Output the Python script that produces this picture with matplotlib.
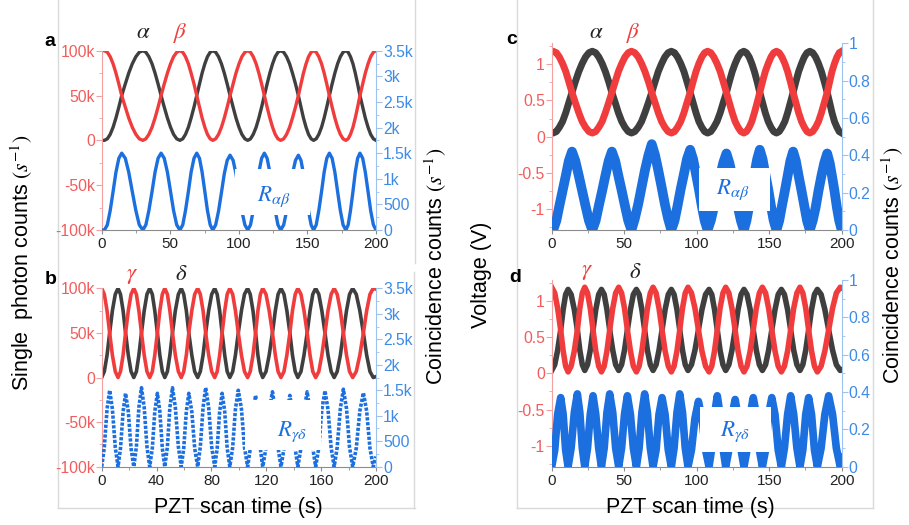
import matplotlib
matplotlib.use("Agg")
import matplotlib.pyplot as plt
from matplotlib.patches import Rectangle
from matplotlib.lines import Line2D
from matplotlib.ticker import MultipleLocator

plt.rcParams['font.family'] = ['Liberation Sans', 'DejaVu Sans']
plt.rcParams['mathtext.fontset'] = 'stix'

W, H = 909, 525
RED = '#f03c3c'
DARK = '#3f3f3f'
BLUE = '#1c6fde'
RED_TXT = '#f25c5c'
RED_AX = '#f5a0a0'
BLUE_TXT = '#3d8be6'
BLUE_AX = '#9cc2f2'
FRAME = '#d9d9d9'

# ---------------- panel a : single photon counts (k/s) and coincidences (k/s)
t_a = [0, 2, 4.1, 6.2, 8.3, 10.4, 12.5, 14.6, 17.2, 19.7, 22.3, 24.9, 27.4, 30,
       32.2, 34.4, 36.7, 38.9, 41.1, 43.3, 45.6, 47.9, 50.2, 52.4, 54.7, 57,
       59.1, 61.1, 63.2, 65.2, 67.3, 69.3, 71.3, 73.2, 75.2, 77.1, 79.1, 81,
       83.1, 85.2, 87.3, 89.4, 91.5, 93.6, 95.8, 97.9, 100.1, 102.2, 104.4, 106.5,
       108.5, 110.5, 112.6, 114.6, 116.6, 118.6, 120.6, 122.6, 124.6, 126.5, 128.5, 130.5,
       132.7, 134.8, 137.0, 139.1, 141.3, 143.4, 145.3, 147.1, 149.0, 150.8, 152.7, 154.5,
       156.4, 158.3, 160.3, 162.2, 164.1, 166, 168, 170, 172, 174, 176, 178,
       179.7, 181.4, 183.2, 184.9, 186.6, 188.3, 190.3, 192.2, 194.2, 196.1, 198.1, 200]
alpha_a = [0, 0, 1.7, 6.7, 14.6, 25, 37.1, 50, 62.9, 75, 85.4, 93.3, 98.3, 100,
           98.3, 93.3, 85.4, 75, 62.9, 50, 37.1, 25, 14.6, 6.7, 1.7, 0,
           1.7, 6.7, 14.6, 25, 37.1, 50, 62.9, 75, 85.4, 93.3, 98.3, 100,
           98.3, 93.3, 85.4, 75, 62.9, 50, 37.1, 25, 14.6, 6.7, 1.7, 0,
           1.7, 6.7, 14.6, 25, 37.1, 50, 62.9, 75, 85.4, 93.3, 98.3, 100,
           98.3, 93.3, 85.4, 75, 62.9, 50, 37.1, 25, 14.6, 6.7, 1.7, 0,
           1.7, 6.7, 14.6, 25, 37.1, 50, 62.9, 75, 85.4, 93.3, 98.3, 100,
           98.3, 93.3, 85.4, 75, 62.9, 50, 37.1, 25, 14.6, 6.7, 1.7, 0]
beta_a = [100, 100, 98.3, 93.3, 85.4, 75, 62.9, 50, 37.1, 25, 14.6, 6.7, 1.7, 0,
          1.7, 6.7, 14.6, 25, 37.1, 50, 62.9, 75, 85.4, 93.3, 98.3, 100,
          98.3, 93.3, 85.4, 75, 62.9, 50, 37.1, 25, 14.6, 6.7, 1.7, 0,
          1.7, 6.7, 14.6, 25, 37.1, 50, 62.9, 75, 85.4, 93.3, 98.3, 100,
          98.3, 93.3, 85.4, 75, 62.9, 50, 37.1, 25, 14.6, 6.7, 1.7, 0,
          1.7, 6.7, 14.6, 25, 37.1, 50, 62.9, 75, 85.4, 93.3, 98.3, 100,
          98.3, 93.3, 85.4, 75, 62.9, 50, 37.1, 25, 14.6, 6.7, 1.7, 0,
          1.7, 6.7, 14.6, 25, 37.1, 50, 62.9, 75, 85.4, 93.3, 98.3, 100]
coinc_a = [0, 0, .1, .38, .75, 1.13, 1.4, 1.5, 1.4, 1.13, .75, .38, .1, 0,
           .1, .38, .75, 1.13, 1.4, 1.5, 1.4, 1.13, .75, .38, .1, 0,
           .1, .38, .75, 1.13, 1.4, 1.5, 1.4, 1.13, .75, .38, .1, 0,
           .1, .37, .73, 1.1, 1.36, 1.46, 1.36, 1.1, .73, .37, .1, 0,
           .1, .38, .75, 1.13, 1.4, 1.5, 1.4, 1.13, .75, .38, .1, 0,
           .1, .37, .73, 1.1, 1.36, 1.46, 1.36, 1.1, .73, .37, .1, 0,
           .1, .38, .75, 1.13, 1.4, 1.5, 1.4, 1.13, .75, .38, .1, 0,
           .1, .38, .75, 1.13, 1.4, 1.5, 1.4, 1.13, .75, .38, .1, 0]

# ---------------- panel b
t_b = [0, 1.9, 3.9, 5.8, 7.8, 9.9, 11.9, 13.7, 15.6, 17.4, 19.4, 21.4, 23.4,
       25.3, 27.1, 29, 31, 33, 35, 36.9, 38.7, 40.6, 42.4, 44.2, 46,
       47.9, 49.7, 51.6, 53.7, 55.9, 58, 59.8, 61.7, 63.5, 65.7, 67.8, 70,
       71.9, 73.9, 75.8, 78, 80.2, 82.4, 84.2, 86, 87.8, 89.7, 91.5, 93.4,
       95.5, 97.5, 99.6, 101.9, 104.1, 106.4, 108.3, 110.3, 112.2, 113.9, 115.7, 117.4,
       119.8, 122.1, 124.5, 126.6, 128.6, 130.7, 132.9, 135, 137.2, 139.1, 141.1, 143,
       145.3, 147.5, 149.8, 151.9, 153.9, 156, 158.3, 160.5, 162.8, 165, 167.3, 169.5,
       171.7, 174, 176.2, 178.5, 180.7, 183, 185.6, 188.2, 190.8, 193.2, 195.6, 198, 200]
gamma_b = [100,
           93.3, 75, 50, 25, 6.7, 0, 6.7, 25, 50, 75, 93.3, 100,
           93.3, 75, 50, 25, 6.7, 0, 6.7, 25, 50, 75, 93.3, 100,
           93.3, 75, 50, 25, 6.7, 0, 6.7, 25, 50, 75, 93.3, 100,
           93.3, 75, 50, 25, 6.7, 0, 6.7, 25, 50, 75, 93.3, 100,
           93.3, 75, 50, 25, 6.7, 0, 6.7, 25, 50, 75, 93.3, 100,
           93.3, 75, 50, 25, 6.7, 0, 6.7, 25, 50, 75, 93.3, 100,
           93.3, 75, 50, 25, 6.7, 0, 6.7, 25, 50, 75, 93.3, 100,
           93.3, 75, 50, 25, 6.7, 0, 6.7, 25, 50, 75, 93.3, 100,
           99]
delta_b = [0,
           6.7, 25, 50, 75, 93.3, 100, 93.3, 75, 50, 25, 6.7, 0,
           6.7, 25, 50, 75, 93.3, 100, 93.3, 75, 50, 25, 6.7, 0,
           6.7, 25, 50, 75, 93.3, 100, 93.3, 75, 50, 25, 6.7, 0,
           6.7, 25, 50, 75, 93.3, 100, 93.3, 75, 50, 25, 6.7, 0,
           6.7, 25, 50, 75, 93.3, 100, 93.3, 75, 50, 25, 6.7, 0,
           6.7, 25, 50, 75, 93.3, 100, 93.3, 75, 50, 25, 6.7, 0,
           6.7, 25, 50, 75, 93.3, 100, 93.3, 75, 50, 25, 6.7, 0,
           6.7, 25, 50, 75, 93.3, 100, 93.3, 75, 50, 25, 6.7, 0,
           1]
coinc_b = [0,
           .38, 1.13, 1.5, 1.13, .38, 0, .36, 1.08, 1.44, 1.08, .36, 0,
           .39, 1.16, 1.55, 1.16, .39, 0, .36, 1.08, 1.44, 1.08, .36, 0,
           .39, 1.16, 1.55, 1.16, .39, 0, .36, 1.08, 1.44, 1.08, .36, 0,
           .39, 1.16, 1.55, 1.16, .39, 0, .36, 1.08, 1.44, 1.08, .36, 0,
           .38, 1.13, 1.5, 1.13, .38, 0, .35, 1.05, 1.4, 1.05, .35, 0,
           .37, 1.1, 1.47, 1.1, .37, 0, .35, 1.05, 1.4, 1.05, .35, 0,
           .37, 1.1, 1.47, 1.1, .37, 0, .37, 1.12, 1.49, 1.12, .37, 0,
           .38, 1.14, 1.52, 1.14, .38, 0, .36, 1.09, 1.45, 1.09, .36, 0,
           .2]

# ---------------- panel c : detector voltage (V) and coincidences
t_c = [0, 1, 3.2, 5.3, 7.5, 9.7, 11.8, 14, 16.3, 18.7, 21, 23.3, 25.7, 28,
       30.3, 32.5, 34.8, 37, 39.3, 41.5, 43.8, 46, 48.3, 50.5, 52.8, 55,
       57.3, 59.7, 62, 64.3, 66.7, 69, 71.3, 73.5, 75.8, 78, 80.3, 82.5,
       84.7, 86.8, 89, 91.2, 93.3, 95.5, 97.5, 99.5, 101.5, 103.5, 105.5, 107.5,
       109.7, 111.8, 114, 116.2, 118.3, 120.5, 122.5, 124.5, 126.5, 128.5, 130.5, 132.5,
       134.3, 136.2, 138, 139.8, 141.7, 143.5, 145.4, 147.3, 149.3, 151.2, 153.1, 155,
       156.9, 158.8, 160.8, 162.7, 164.6, 166.5, 168.4, 170.3, 172.3, 174.2, 176.1, 178,
       180, 182, 184, 186, 188, 190, 191.7, 193.3, 195, 196.7, 198.3, 200]
alpha_c = [0.05, 0.05, 0.07, 0.13, 0.21, 0.33, 0.47, 0.61, 0.76, 0.9, 1.01, 1.1, 1.16, 1.18,
           1.16, 1.1, 1.01, 0.9, 0.76, 0.61, 0.47, 0.33, 0.21, 0.13, 0.07, 0.05,
           0.07, 0.13, 0.21, 0.33, 0.47, 0.61, 0.76, 0.9, 1.01, 1.1, 1.16, 1.18,
           1.16, 1.1, 1.01, 0.9, 0.76, 0.61, 0.47, 0.33, 0.21, 0.13, 0.07, 0.05,
           0.07, 0.13, 0.21, 0.33, 0.47, 0.61, 0.76, 0.9, 1.01, 1.1, 1.16, 1.18,
           1.16, 1.1, 1.01, 0.9, 0.76, 0.61, 0.47, 0.33, 0.21, 0.13, 0.07, 0.05,
           0.07, 0.13, 0.21, 0.33, 0.47, 0.61, 0.76, 0.9, 1.01, 1.1, 1.16, 1.18,
           1.16, 1.1, 1.01, 0.9, 0.76, 0.61, 0.47, 0.33, 0.21, 0.13, 0.07, 0.05]
beta_c = [1.18, 1.18, 1.16, 1.1, 1.01, 0.9, 0.76, 0.61, 0.47, 0.33, 0.21, 0.13, 0.07, 0.05,
          0.07, 0.13, 0.21, 0.33, 0.47, 0.61, 0.76, 0.9, 1.01, 1.1, 1.16, 1.18,
          1.16, 1.1, 1.01, 0.9, 0.76, 0.61, 0.47, 0.33, 0.21, 0.13, 0.07, 0.05,
          0.07, 0.13, 0.21, 0.33, 0.47, 0.61, 0.76, 0.9, 1.01, 1.1, 1.16, 1.18,
          1.16, 1.1, 1.01, 0.9, 0.76, 0.61, 0.47, 0.33, 0.21, 0.13, 0.07, 0.05,
          0.07, 0.13, 0.21, 0.33, 0.47, 0.61, 0.76, 0.9, 1.01, 1.1, 1.16, 1.18,
          1.16, 1.1, 1.01, 0.9, 0.76, 0.61, 0.47, 0.33, 0.21, 0.13, 0.07, 0.05,
          0.07, 0.13, 0.21, 0.33, 0.47, 0.61, 0.76, 0.9, 1.01, 1.1, 1.16, 1.18]
coinc_c = [0, 0, .05, .13, .21, .29, .37, .42, .37, .29, .21, .13, .05, 0,
           .05, .13, .21, .29, .37, .42, .37, .29, .21, .13, .05, 0,
           .06, .14, .23, .32, .4, .46, .4, .32, .23, .14, .06, 0,
           .05, .13, .22, .3, .38, .43, .38, .3, .22, .13, .05, 0,
           .05, .12, .21, .29, .36, .41, .36, .29, .21, .12, .05, 0,
           .05, .13, .22, .3, .38, .43, .38, .3, .22, .13, .05, 0,
           .05, .13, .21, .29, .37, .42, .37, .29, .21, .13, .05, 0,
           .05, .12, .21, .29, .36, .41, .36, .29, .21, .12, .05, 0]

# ---------------- panel d
t_d = [0, 2.1, 4.1, 6.2, 7.9, 9.6, 11.3, 13.4, 15.6, 17.7, 19.4, 21.1, 22.8,
       24.7, 26.6, 28.5, 30.4, 32.4, 34.3, 36.2, 38.1, 40, 42.1, 44.1, 46.2,
       48.2, 50.2, 52.2, 54.3, 56.3, 58.4, 60.3, 62.2, 64.1, 66, 68, 69.9,
       72, 74, 76.1, 78.2, 80.4, 82.5, 84.4, 86.4, 88.3, 90.2, 92.1, 94,
       96.4, 98.8, 101.2, 103.6, 106.1, 108.5, 110.4, 112.3, 114.2, 116.1, 118.1, 120,
       122.2, 124.3, 126.5, 128.5, 130.6, 132.6, 134.7, 136.9, 139, 141.1, 143.2, 145.3,
       147.5, 149.6, 151.8, 154, 156.2, 158.4, 160.5, 162.7, 164.8, 166.9, 169.1, 171.2,
       173.2, 175.2, 177.2, 179.2, 181.2, 183.2, 185.8, 188.4, 191, 193.7, 196.3, 199, 200]
gamma_d = [1.19,
           1.11, .9, .6, .31, .1, .02, .1, .31, .6, .9, 1.11, 1.19,
           1.11, .9, .6, .31, .1, .02, .1, .31, .6, .9, 1.11, 1.19,
           1.11, .9, .6, .31, .1, .02, .1, .31, .6, .9, 1.11, 1.19,
           1.11, .9, .6, .31, .1, .02, .1, .31, .6, .9, 1.11, 1.19,
           1.11, .9, .6, .31, .1, .02, .1, .31, .6, .9, 1.11, 1.19,
           1.11, .9, .6, .31, .1, .02, .1, .31, .6, .9, 1.11, 1.19,
           1.11, .9, .6, .31, .1, .02, .1, .31, .6, .9, 1.11, 1.19,
           1.11, .9, .6, .31, .1, .02, .1, .31, .6, .9, 1.11, 1.19,
           1.18]
delta_d = [.04,
           .12, .32, .6, .88, 1.09, 1.16, 1.09, .88, .6, .32, .12, .04,
           .12, .32, .6, .88, 1.09, 1.16, 1.09, .88, .6, .32, .12, .04,
           .12, .32, .6, .88, 1.09, 1.16, 1.09, .88, .6, .32, .12, .04,
           .12, .32, .6, .88, 1.09, 1.16, 1.09, .88, .6, .32, .12, .04,
           .12, .32, .6, .88, 1.09, 1.16, 1.09, .88, .6, .32, .12, .04,
           .12, .32, .6, .88, 1.09, 1.16, 1.09, .88, .6, .32, .12, .04,
           .12, .32, .6, .88, 1.09, 1.16, 1.09, .88, .6, .32, .12, .04,
           .12, .32, .6, .88, 1.09, 1.16, 1.09, .88, .6, .32, .12, .04,
           .05]
coinc_d = [0,
           .09, .28, .37, .28, .09, 0, .1, .29, .39, .29, .1, 0,
           .1, .28, .38, .28, .1, 0, .1, .29, .39, .29, .1, 0,
           .1, .28, .38, .28, .1, 0, .1, .29, .39, .29, .1, 0,
           .09, .28, .37, .28, .09, 0, .1, .29, .39, .29, .1, 0,
           .09, .26, .35, .26, .09, 0, .1, .28, .38, .28, .1, 0,
           .09, .27, .36, .27, .09, 0, .09, .28, .37, .28, .09, 0,
           .09, .28, .37, .28, .09, 0, .1, .28, .38, .28, .1, 0,
           .09, .28, .37, .28, .09, 0, .1, .28, .38, .28, .1, 0,
           .05]

# tick labels
counts_ticks = [-100, -50, 0, 50, 100]
counts_labels = ['-100k', '-50k', '0', '50k', '100k']
coinc_ticks = [0, 0.5, 1, 1.5, 2, 2.5, 3, 3.5]
coinc_labels = ['0', '500', '1k', '1.5k', '2k', '2.5k', '3k', '3.5k']
volt_ticks = [-1, -0.5, 0, 0.5, 1]
volt_labels = ['-1', '-0.5', '0', '0.5', '1']
norm_ticks = [0, 0.2, 0.4, 0.6, 0.8, 1]
norm_labels = ['0', '0.2', '0.4', '0.6', '0.8', '1']


def px(x, y):
    return x / W, 1 - y / H


fig = plt.figure(figsize=(W / 100, H / 100), dpi=100)


def make_panel(l, t, r, b, ylim, yticks, ylabels, yminor, y2lim, y2ticks, y2labels, y2minor, xstep):
    ax = fig.add_axes([l / W, 1 - b / H, (r - l) / W, (b - t) / H])
    ax2 = ax.twinx()
    ax.set_xlim(0, 200)
    ax.set_ylim(*ylim)
    ax2.set_ylim(*y2lim)
    ax.set_xticks(range(0, 201, xstep))
    ax.xaxis.set_minor_locator(MultipleLocator(xstep / 2))
    ax.set_yticks(yticks)
    ax.set_yticklabels(ylabels)
    ax.yaxis.set_minor_locator(MultipleLocator(yminor))
    ax2.set_yticks(y2ticks)
    ax2.set_yticklabels(y2labels)
    ax2.yaxis.set_minor_locator(MultipleLocator(y2minor))
    for s in ['top', 'right']:
        ax.spines[s].set_visible(False)
    for s in ['top', 'left', 'bottom']:
        ax2.spines[s].set_visible(False)
    ax.spines['left'].set_color(RED_AX)
    ax.spines['bottom'].set_color('#8c8c8c')
    ax2.spines['right'].set_color(BLUE_AX)
    ax.tick_params(axis='y', which='both', color=RED_AX, labelcolor=RED_TXT, labelsize=11.3, pad=1)
    ax.tick_params(axis='y', which='major', length=4)
    ax.tick_params(axis='y', which='minor', length=2)
    ax2.tick_params(axis='y', which='both', color=BLUE_AX, labelcolor=BLUE_TXT, labelsize=11.3, pad=1)
    ax2.tick_params(axis='y', which='major', length=4)
    ax2.tick_params(axis='y', which='minor', length=2)
    ax.tick_params(axis='x', which='both', color='#8c8c8c', labelcolor='#222222', labelsize=11, pad=2)
    ax.tick_params(axis='x', which='major', length=3)
    ax.tick_params(axis='x', which='minor', length=2)
    return ax, ax2


def blank(ax2, x0, x1, y0, y1):
    # white label background that hides part of the coincidence trace
    ax2.add_patch(Rectangle((x0, y0), x1 - x0, y1 - y0, facecolor='white',
                            edgecolor='none', zorder=10))


# a
ax, ax2 = make_panel(101.7, 50.7, 376, 230, (-100, 100), counts_ticks, counts_labels, 25,
                     (0, 3.5), coinc_ticks, coinc_labels, 0.25, 50)
ax.plot(t_a, alpha_a, color=DARK, lw=2.4, solid_joinstyle='round')
ax.plot(t_a, beta_a, color=RED, lw=2.4, solid_joinstyle='round')
ax2.plot(t_a, coinc_a, color=BLUE, lw=2.4, solid_joinstyle='round', zorder=2)
blank(ax2, 97.5, 152, 0.29, 1.2)

# b
ax, ax2 = make_panel(101.7, 288.3, 376, 466.7, (-100, 100), counts_ticks, counts_labels, 25,
                     (0, 3.5), coinc_ticks, coinc_labels, 0.25, 40)
ax.plot(t_b, delta_b, color=DARK, lw=2.6, solid_joinstyle='round')
ax.plot(t_b, gamma_b, color=RED, lw=2.6, solid_joinstyle='round')
ax2.plot(t_b, coinc_b, color=BLUE, lw=2.6, linestyle=(0, (0.9, 0.45)), zorder=2)
blank(ax2, 104.5, 160, 0.32, 1.3)

# c
ax, ax2 = make_panel(551.7, 43.3, 841.7, 230, (-1.29, 1.29), volt_ticks, volt_labels, 0.25,
                     (0, 1), norm_ticks, norm_labels, 0.1, 50)
ax.plot(t_c, alpha_c, color=DARK, lw=5, solid_joinstyle='round')
ax.plot(t_c, beta_c, color=RED, lw=5, solid_joinstyle='round')
ax2.plot(t_c, coinc_c, color=BLUE, lw=7, solid_joinstyle='round', zorder=2)
blank(ax2, 101.5, 150.5, 0.1, 0.33)

# d
ax, ax2 = make_panel(551.7, 280, 841.7, 466.7, (-1.29, 1.29), volt_ticks, volt_labels, 0.25,
                     (0, 1), norm_ticks, norm_labels, 0.1, 50)
ax.plot(t_d, delta_d, color=DARK, lw=4, solid_joinstyle='round')
ax.plot(t_d, gamma_d, color=RED, lw=4, solid_joinstyle='round')
ax2.plot(t_d, coinc_d, color=BLUE, lw=5.5, solid_joinstyle='round', zorder=2)
blank(ax2, 102.5, 151, 0.08, 0.32)

# frames around the two halves
for xs, ys in [([58, 58], [-5, 508]), ([58, 415], [508, 508]), ([415, 415], [-5, 263]),
               ([413.5, 413.5], [272, 508]), ([517, 517], [-5, 508]), ([517, 873], [508, 508]),
               ([873, 873], [-5, 508])]:
    fig.add_artist(Line2D([x / W for x in xs], [1 - y / H for y in ys], color=FRAME, lw=1, zorder=0))

# text
for (x, y), s in [((50, 42), 'a'), ((51, 279), 'b'), ((512, 40), 'c'), ((515, 278), 'd')]:
    fig.text(*px(x, y), s, fontsize=14, fontweight='bold', ha='center', va='center')

greek = [((143, 32), r'$\alpha$', '#222222'), ((180, 33), r'$\beta$', RED),
         ((132, 274), r'$\gamma$', RED), ((181, 273), r'$\delta$', '#222222'),
         ((596, 32), r'$\alpha$', '#222222'), ((633, 33), r'$\beta$', RED),
         ((587, 270), r'$\gamma$', RED), ((635, 272), r'$\delta$', '#222222')]
for (x, y), s, c in greek:
    fig.text(*px(x, y), s, fontsize=16.5, color=c, ha='center', va='center')

for (x, y), s in [((274, 197), r'$R_{\alpha\beta}$'), ((292, 432), r'$R_{\gamma\delta}$'),
                  ((733, 190), r'$R_{\alpha\beta}$'), ((735, 432), r'$R_{\gamma\delta}$')]:
    fig.text(*px(x, y), s, fontsize=16.5, color=BLUE, ha='center', va='center', zorder=5)

fig.text(*px(22, 263), r'Single  photon counts $(s^{-1})$', fontsize=15.5, rotation=90,
         ha='center', va='center')
fig.text(*px(436, 266), r'Coincidence counts $(s^{-1})$', fontsize=15.5, rotation=90,
         ha='center', va='center')
fig.text(*px(481, 275), 'Voltage (V)', fontsize=15.5, rotation=90, ha='center', va='center')
fig.text(*px(893, 265), r'Coincidence counts $(s^{-1})$', fontsize=15.5, rotation=90,
         ha='center', va='center')
fig.text(*px(238, 507), 'PZT scan time (s)', fontsize=15.5, ha='center', va='center')
fig.text(*px(690, 507), 'PZT scan time (s)', fontsize=15.5, ha='center', va='center')

fig.savefig('out.png', dpi=100)
